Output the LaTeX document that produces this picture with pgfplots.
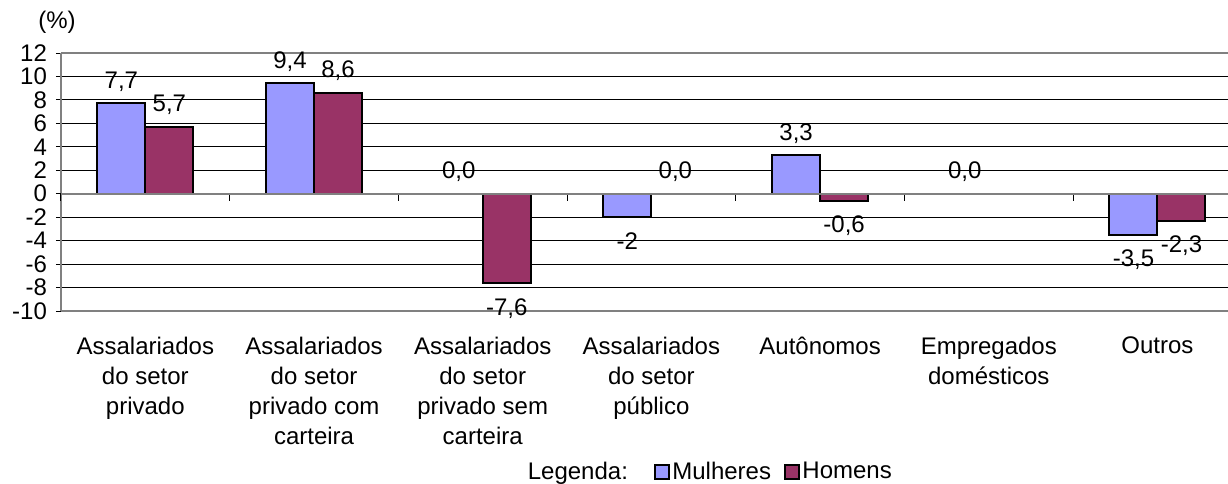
\documentclass[border=0pt]{standalone}
\usepackage{fontspec}
\setmainfont{Liberation Sans}
\usepackage{pgfplots}
\pgfplotsset{compat=1.18}

\definecolor{mulheres}{HTML}{9999FF}
\definecolor{homens}{HTML}{993366}
\definecolor{axgray}{HTML}{808080}

\pgfplotsset{boxlegend/.style={legend image code/.code={%
    \draw[##1, line width=1pt] (0pt,-3.6pt) rectangle (7.2pt,3.6pt);}}}

\pgfplotstableread{
x y lab
0 7.7 7,7
1 9.4 9,4
2 0.0 0,0
3 -2 -2
4 3.3 3,3
5 0.0 0,0
6 -3.5 -3,5
}\mulherestab

\pgfplotstableread{
x y lab
0 5.7 5,7
1 8.6 8,6
2 -7.6 -7,6
3 0.0 0,0
4 -0.6 -0,6
6 -2.3 -2,3
}\homenstab

\begin{document}
\begin{tikzpicture}[font=\fontsize{12}{15}\selectfont]
\useasboundingbox (-30.5pt,-86pt) rectangle (583.5pt,155.5pt);

\begin{axis}[
    scale only axis, width=583.5pt, height=129pt,
    xmin=-0.5, xmax=6.418, ymin=-10, ymax=12,
    axis x line*=box, axis y line*=left,
    x axis line style={axgray, line width=1pt},
    y axis line style={axgray, line width=1pt},
    ybar=0pt, bar width=24pt,
    ytick={-10,-8,-6,-4,-2,2,4,6,8,10,12},
    extra y ticks={0},
    extra y tick style={ymajorgrids=false},
    ymajorgrids, grid style={black, line width=0.5pt},
    ytick style={black, line width=0.5pt},
    tick align=outside, major tick length=2.5pt,
    /pgf/number format/assume math mode=true,
    yticklabel style={font=\fontsize{12}{15}\selectfont, xshift=-1pt},
    xtick={0,...,6},
    x tick style={draw=none},
    xticklabels={Assalariados\\do setor\\privado,
        Assalariados\\do setor\\privado com\\carteira,
        Assalariados\\do setor\\privado sem\\carteira,
        Assalariados\\do setor\\público,
        Autônomos,
        Empregados\\domésticos,
        Outros},
    xticklabel style={align=center, anchor=north, yshift=-7pt,
        font=\fontsize{12}{15}\selectfont},
    clip=false,
    visualization depends on=rawy\as\rawy,
    nodes near coords={\pgfplotspointmeta},
    point meta=explicit symbolic,
    every node near coord/.append style={font=\fontsize{12}{15}\selectfont,
        text=black, inner ysep=7pt, text height=8.6pt, text depth=0pt,
        /utils/exec={\ifdim\rawy pt<0pt\def\myanc{north}\else\def\myanc{south}\fi},
        anchor=\myanc},
    legend columns=3,
    legend style={at={(0.556,-0.624)}, anchor=center, draw=none, fill=none,
        font=\fontsize{12}{15}\selectfont,
        nodes={inner xsep=1pt},
        /tikz/column 2/.style={column sep=12pt},
        /tikz/column 4/.style={column sep=5.5pt}},
]
\addlegendimage{empty legend}
\addlegendentry{Legenda:}
\addplot[fill=mulheres, draw=black, line width=1pt, boxlegend]
    table[x=x, y=y, meta=lab] {\mulherestab};
\addlegendentry{Mulheres}
\addplot[fill=homens, draw=black, line width=1pt, boxlegend]
    table[x=x, y=y, meta=lab] {\homenstab};
\addlegendentry{Homens}
\node at ([xshift=-2pt, yshift=15.5pt]rel axis cs:0,1) {(\%)};
\end{axis}

% zero line with the category separators
\begin{axis}[
    at={(0pt,58.636pt)}, anchor=south west,
    scale only axis, width=583.5pt, height=10pt,
    xmin=-0.5, xmax=6.418, ymin=0, ymax=1,
    axis x line*=bottom, hide y axis,
    x axis line style={axgray, line width=1pt},
    xtick={-0.5,0.5,1.5,2.5,3.5,4.5,5.5}, xticklabels={},
    tick align=outside, major tick length=3.5pt,
    xtick style={black, line width=0.5pt},
]
\addplot[draw=none] coordinates {(0,0.5)};
\end{axis}
\end{tikzpicture}
\end{document}
